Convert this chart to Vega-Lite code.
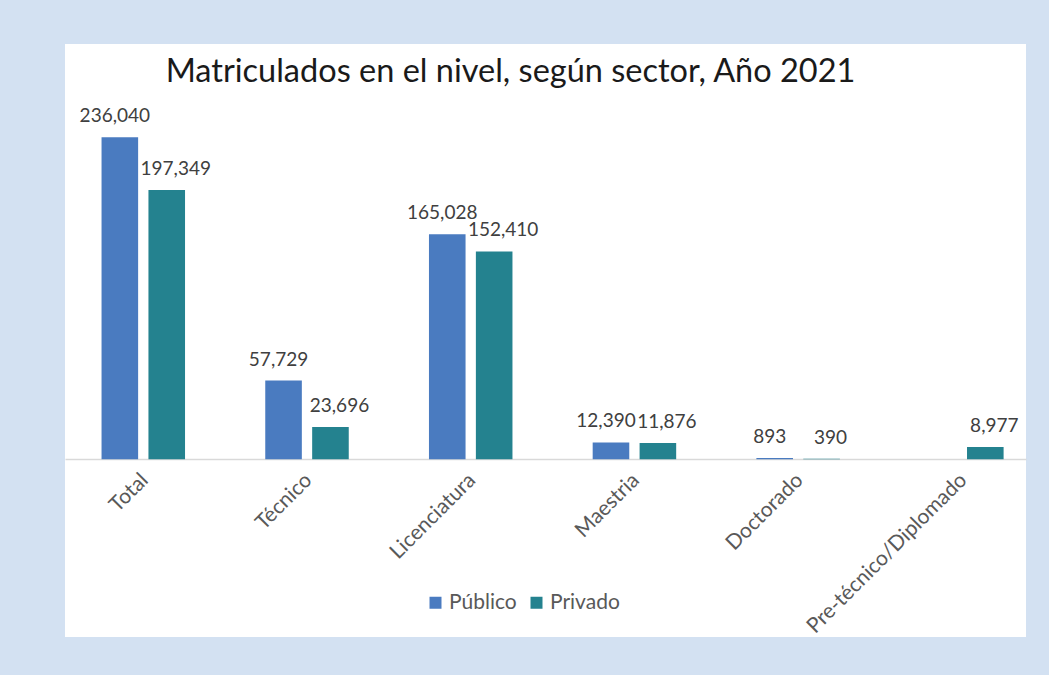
{
  "$schema": "https://vega.github.io/schema/vega-lite/v6.json",
  "width": 961,
  "height": 593,
  "autosize": {"type": "none"},
  "padding": {"left": 65, "top": 44, "right": 23, "bottom": 38},
  "background": "#d3e1f2",
  "config": {"view": {"fill": "white", "stroke": null}, "font": "Lato"},
  "title": {
    "text": "Matriculados en el nivel, según sector, Año 2021",
    "fontSize": 32.5,
    "font": "Lato",
    "fontWeight": "normal",
    "color": "#1a1a1a",
    "anchor": "middle",
    "baseline": "alphabetic",
    "offset": -70,
    "dx": -35
  },
  "data": {
    "values": [
      {"nivel": "Total", "sector": "Público", "valor": 236040},
      {"nivel": "Total", "sector": "Privado", "valor": 197349},
      {"nivel": "Técnico", "sector": "Público", "valor": 57729},
      {"nivel": "Técnico", "sector": "Privado", "valor": 23696},
      {"nivel": "Licenciatura", "sector": "Público", "valor": 165028},
      {"nivel": "Licenciatura", "sector": "Privado", "valor": 152410},
      {"nivel": "Maestria", "sector": "Público", "valor": 12390},
      {"nivel": "Maestria", "sector": "Privado", "valor": 11876},
      {"nivel": "Doctorado", "sector": "Público", "valor": 893},
      {"nivel": "Doctorado", "sector": "Privado", "valor": 390},
      {"nivel": "Pre-técnico/Diplomado", "sector": "Privado", "valor": 8977}
    ]
  },
  "encoding": {
    "x": {
      "field": "nivel",
      "type": "nominal",
      "sort": ["Total", "Técnico", "Licenciatura", "Maestria", "Doctorado", "Pre-técnico/Diplomado"],
      "scale": {"paddingInner": 0.49, "paddingOuter": 0.18, "align": 0.62},
      "axis": {
        "title": null,
        "orient": "bottom",
        "offset": -178,
        "labelAngle": -45,
        "labelFontSize": 21,
        "labelColor": "#595959",
        "labelLimit": 0,
        "ticks": false,
        "domainColor": "#d9d9d9",
        "domainWidth": 1.5,
        "labelPadding": 10,
        "labelOffset": -6
      }
    },
    "xOffset": {
      "field": "sector",
      "type": "nominal",
      "sort": ["Público", "Privado"],
      "scale": {"paddingInner": 0.22, "paddingOuter": 0}
    },
    "y": {
      "field": "valor",
      "type": "quantitative",
      "scale": {"domain": [-130260, 304430], "nice": false, "zero": false},
      "axis": null
    }
  },
  "layer": [
    {
      "mark": {"type": "bar"},
      "encoding": {
        "y2": {"datum": 0},
        "color": {
          "field": "sector",
          "type": "nominal",
          "sort": ["Público", "Privado"],
          "scale": {"domain": ["Público", "Privado"], "range": ["#4a7bc0", "#24828f"]},
          "legend": {
            "title": null,
            "orient": "none",
            "legendX": 360,
            "legendY": 548,
            "direction": "horizontal",
            "symbolType": "square",
            "symbolSize": 144,
            "labelFontSize": 21,
            "labelColor": "#595959",
            "columnPadding": 9,
            "labelOffset": 3
          }
        }
      }
    },
    {
      "transform": [{"filter": "datum.sector === 'Público'"}],
      "mark": {"type": "text", "baseline": "alphabetic", "dy": -15, "dx": -5, "fontSize": 19, "color": "#404040"},
      "encoding": {"text": {"field": "valor", "type": "quantitative", "format": ","}}
    },
    {
      "transform": [{"filter": "datum.sector === 'Privado'"}],
      "mark": {"type": "text", "baseline": "alphabetic", "dy": -15, "dx": 9, "fontSize": 19, "color": "#404040"},
      "encoding": {"text": {"field": "valor", "type": "quantitative", "format": ","}}
    }
  ]
}
